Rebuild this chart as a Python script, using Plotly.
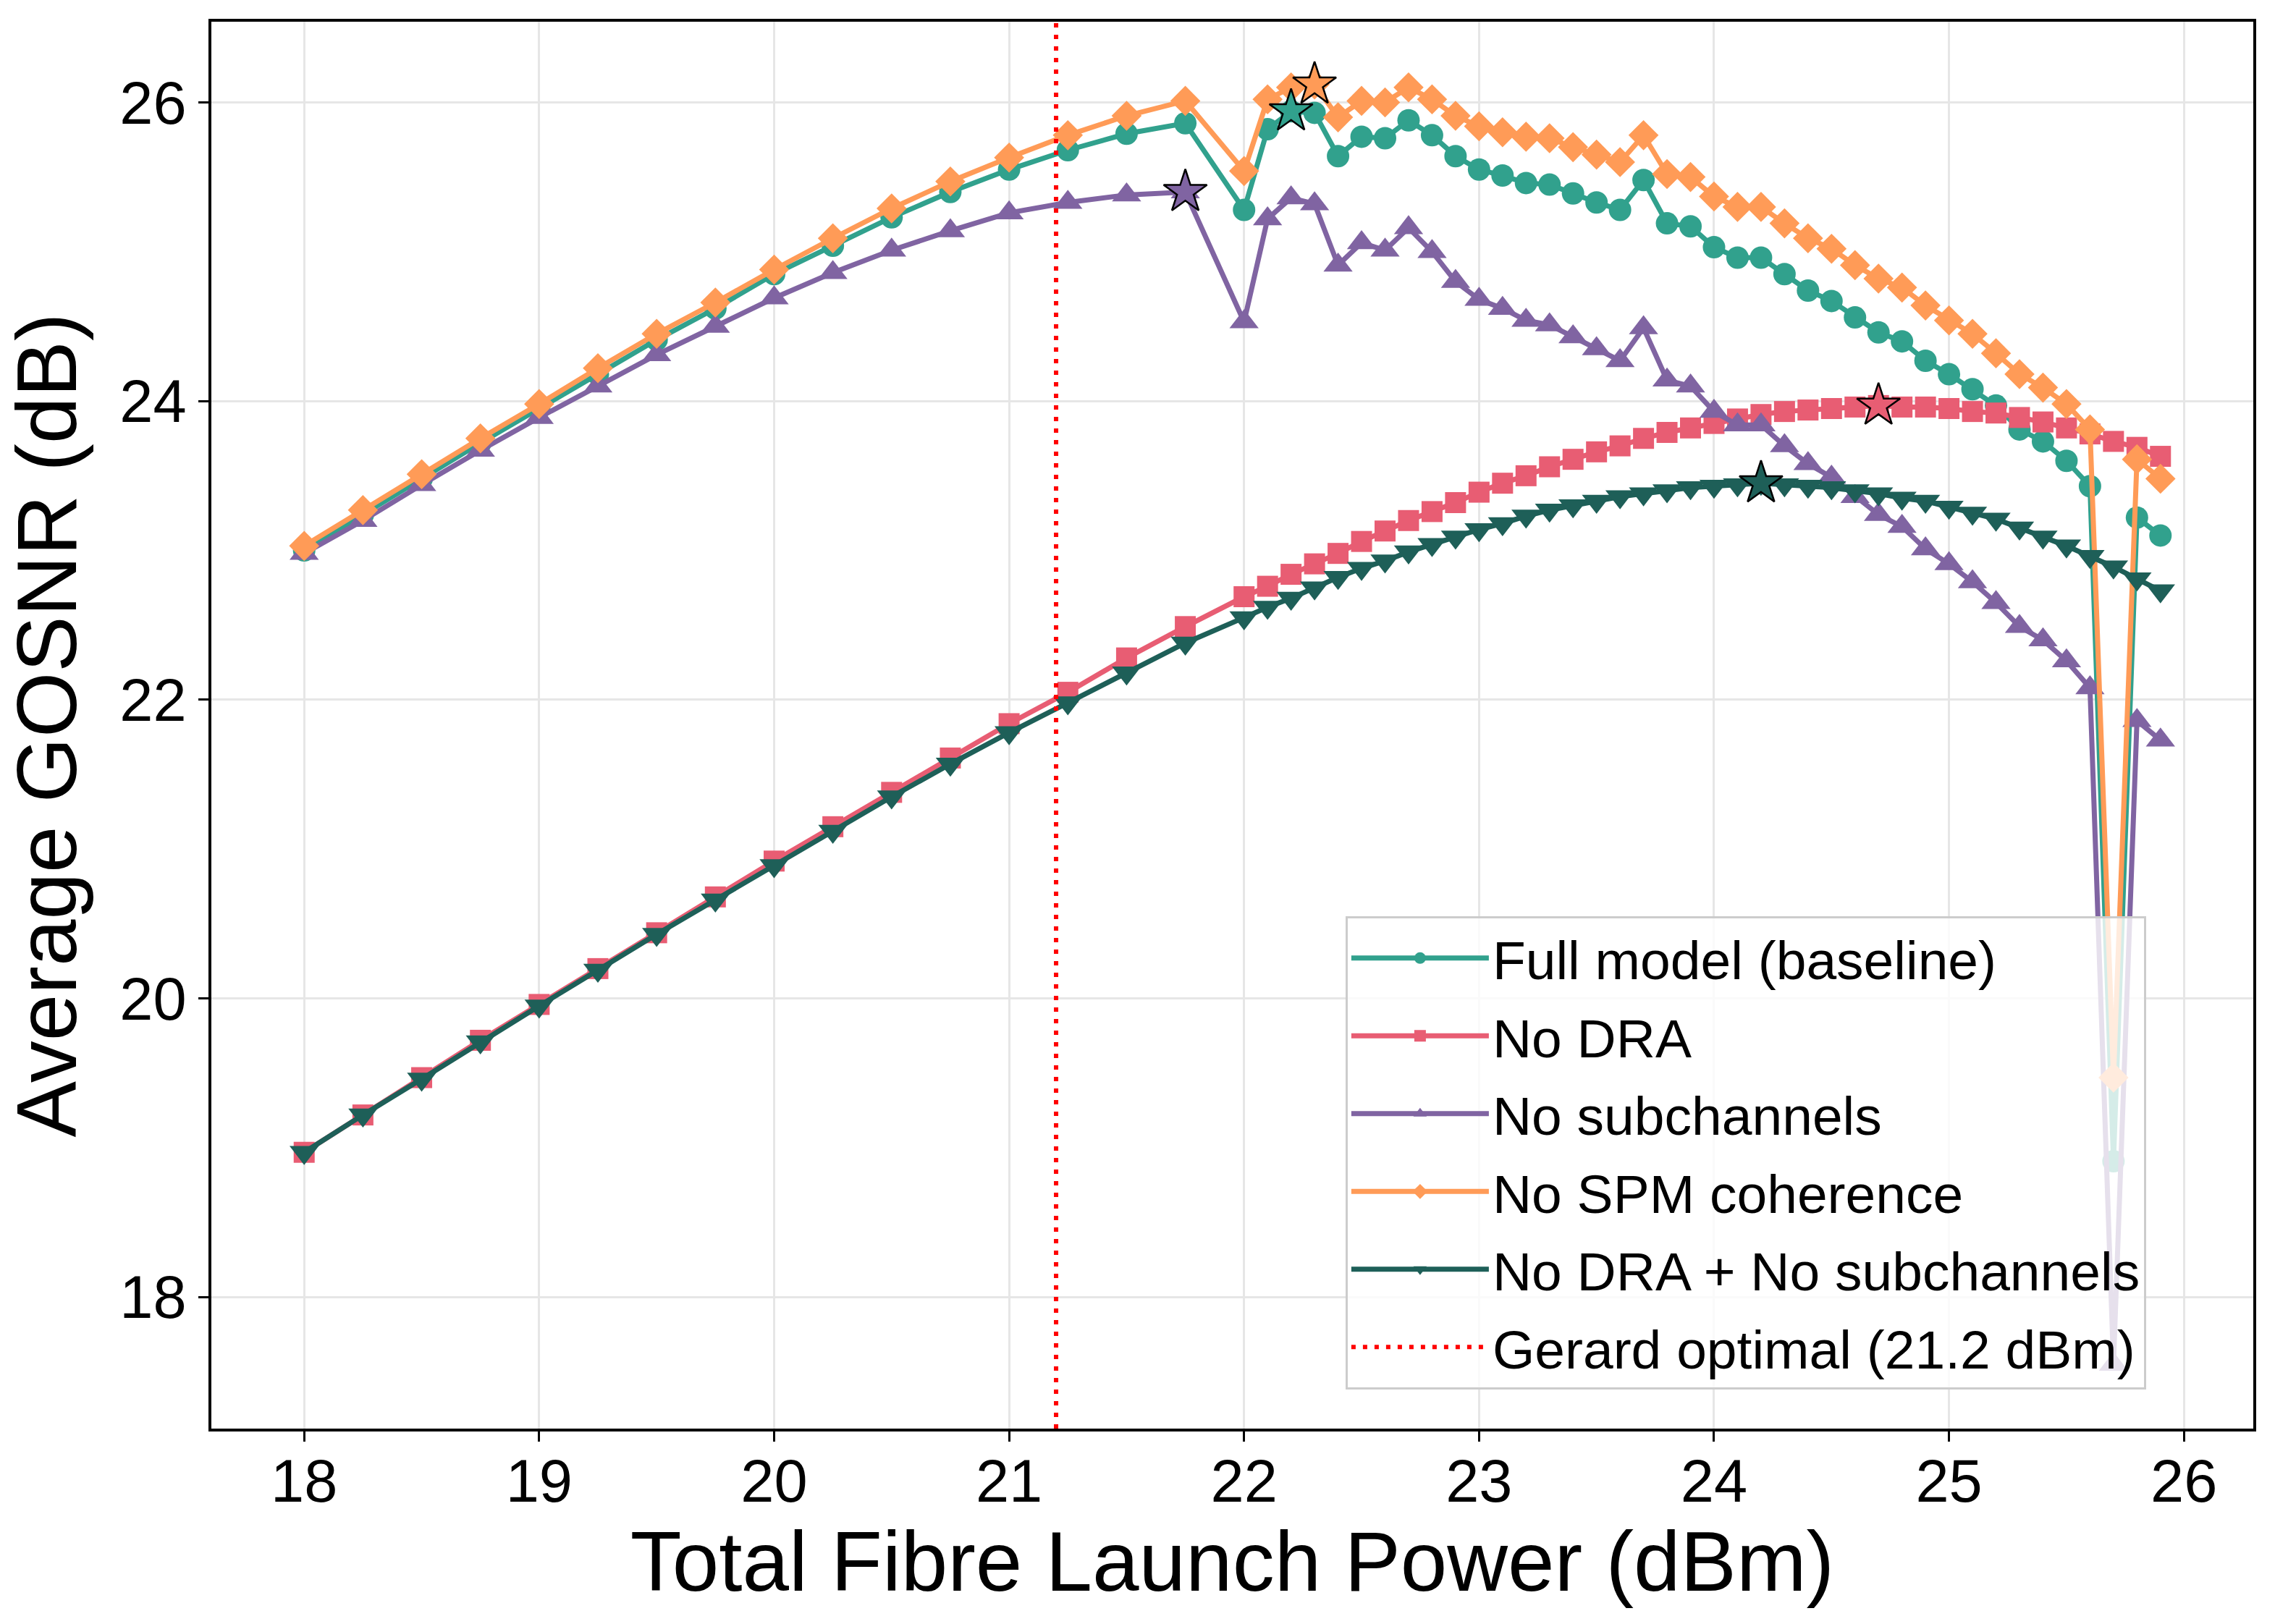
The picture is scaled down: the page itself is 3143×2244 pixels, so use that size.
import plotly.graph_objects as go

# ---------------- data ----------------
power_dbm = [18.0, 18.25, 18.5, 18.75, 19.0, 19.25, 19.5, 19.75, 20.0, 20.25, 20.5, 20.75,
             21.0, 21.25, 21.5, 21.75,
             22.0, 22.1, 22.2, 22.3, 22.4, 22.5, 22.6, 22.7, 22.8, 22.9,
             23.0, 23.1, 23.2, 23.3, 23.4, 23.5, 23.6, 23.7, 23.8, 23.9,
             24.0, 24.1, 24.2, 24.3, 24.4, 24.5, 24.6, 24.7, 24.8, 24.9,
             25.0, 25.1, 25.2, 25.3, 25.4, 25.5, 25.6, 25.7, 25.8, 25.9]

full_model = [23.00, 23.24, 23.48, 23.72, 23.95, 24.18, 24.41, 24.62, 24.85, 25.04, 25.23, 25.40,
              25.55, 25.68, 25.79, 25.86,
              25.28, 25.82, 25.94, 25.93, 25.64, 25.77, 25.76, 25.88, 25.78, 25.64,
              25.55, 25.51, 25.46, 25.45, 25.39, 25.33, 25.28, 25.48, 25.19, 25.17,
              25.03, 24.96, 24.96, 24.85, 24.74, 24.67, 24.56, 24.46, 24.40, 24.27,
              24.18, 24.08, 23.97, 23.81, 23.73, 23.60, 23.43, 18.91, 23.22, 23.10]

no_dra = [18.97, 19.22, 19.47, 19.72, 19.96, 20.20, 20.44, 20.68, 20.92, 21.15, 21.38, 21.61,
          21.84, 22.05, 22.28, 22.49,
          22.69, 22.76, 22.84, 22.91, 22.98, 23.06, 23.13, 23.20, 23.26, 23.32,
          23.39, 23.45, 23.50, 23.56, 23.61, 23.66, 23.70, 23.75, 23.79, 23.82,
          23.85, 23.88, 23.91, 23.93, 23.94, 23.95, 23.96, 23.97, 23.96, 23.96,
          23.95, 23.93, 23.92, 23.89, 23.86, 23.82, 23.78, 23.73, 23.69, 23.63]

no_subchannels = [22.98, 23.20, 23.44, 23.67, 23.89, 24.10, 24.31, 24.50, 24.69, 24.86, 25.01, 25.14,
                  25.26, 25.33, 25.38, 25.40,
                  24.53, 25.22, 25.36, 25.32, 24.91, 25.06, 25.01, 25.16, 25.00, 24.80,
                  24.68, 24.62, 24.54, 24.51, 24.43, 24.35, 24.27, 24.49, 24.14, 24.10,
                  23.93, 23.84, 23.84, 23.70, 23.58, 23.49, 23.36, 23.24, 23.16, 23.01,
                  22.91, 22.79, 22.65, 22.49, 22.40, 22.26, 22.08, 17.55, 21.86, 21.73]

no_spm = [23.03, 23.27, 23.51, 23.75, 23.98, 24.22, 24.45, 24.66, 24.88, 25.09, 25.29, 25.47,
          25.63, 25.78, 25.91, 26.01,
          25.54, 26.02, 26.10, 26.12, 25.90, 26.01, 26.00, 26.10, 26.02, 25.91,
          25.84, 25.80, 25.77, 25.76, 25.70, 25.65, 25.60, 25.78, 25.52, 25.50,
          25.37, 25.30, 25.30, 25.19, 25.09, 25.02, 24.91, 24.82, 24.76, 24.64,
          24.54, 24.45, 24.32, 24.18, 24.09, 23.98, 23.81, 19.47, 23.61, 23.48]

no_dra_no_sub = [18.97, 19.22, 19.46, 19.71, 19.95, 20.19, 20.43, 20.66, 20.89, 21.12, 21.35, 21.57,
                 21.78, 21.98, 22.18, 22.38,
                 22.55, 22.62, 22.68, 22.75, 22.82, 22.88, 22.93, 22.99, 23.04, 23.09,
                 23.14, 23.18, 23.23, 23.27, 23.30, 23.33, 23.36, 23.38, 23.40, 23.42,
                 23.43, 23.44, 23.45, 23.44, 23.43, 23.42, 23.40, 23.38, 23.35, 23.33,
                 23.29, 23.25, 23.21, 23.15, 23.09, 23.03, 22.96, 22.89, 22.81, 22.73]

series_names = ["Full model (baseline)", "No DRA", "No subchannels",
                "No SPM coherence", "No DRA + No subchannels"]
series_values = [full_model, no_dra, no_subchannels, no_spm, no_dra_no_sub]

gerard_optimal = 21.2
gerard_label = "Gerard optimal (21.2 dBm)"

x_ticks = [18, 19, 20, 21, 22, 23, 24, 25, 26]
y_ticks = [18, 20, 22, 24, 26]

# ---------------- style ----------------
colors = ["#31a18d", "#e85d73", "#8064a2", "#ff9b57", "#1e5f58"]
symbols = ["circle", "square", "triangle-up", "diamond", "triangle-down"]
msizes = [31, 29, 35, 32, 35]
LINE_W = 7
FONT = "Liberation Sans, Arial, Helvetica, sans-serif"
X_RANGE = [17.605, 26.295]
Y_RANGE = [17.12, 26.54]

fig = go.Figure()

for i, (name, vals) in enumerate(zip(series_names, series_values)):
    fig.add_trace(go.Scatter(
        x=power_dbm, y=vals, name=name, mode="lines+markers",
        legendgroup=f"g{i}",
        line=dict(color=colors[i], width=LINE_W),
        marker=dict(symbol=symbols[i], size=msizes[i], color=colors[i], line=dict(width=0)),
    ))

fig.add_trace(go.Scatter(
    x=[gerard_optimal, gerard_optimal], y=Y_RANGE, name=gerard_label, mode="lines",
    legendgroup="g5",
    line=dict(color="red", width=6, dash="6px,10px"),
))

# optimum markers (stars)
for i, vals in enumerate(series_values):
    k = max(range(len(vals)), key=lambda j: vals[j])
    fig.add_trace(go.Scatter(
        x=[power_dbm[k]], y=[vals[k]], mode="markers", showlegend=False,
        marker=dict(symbol="star", size=45, color=colors[i], line=dict(color="black", width=2.5)),
    ))

axis_common = dict(
    showline=True, linecolor="black", linewidth=3.5, mirror=True,
    ticks="outside", ticklen=14, tickwidth=3, tickcolor="black",
    showgrid=True, gridcolor="#e6e6e6", gridwidth=3,
    zeroline=False,
    tickfont=dict(family=FONT, size=83, color="black"),
)

fig.update_xaxes(range=X_RANGE, tickvals=x_ticks, ticktext=[str(t) for t in x_ticks],
                 ticklabelstandoff=-16,
                 title=dict(text="Total Fibre Launch Power (dBm)",
                            font=dict(family=FONT, size=116, color="black"), standoff=20),
                 **axis_common)
fig.update_yaxes(range=Y_RANGE, tickvals=y_ticks, ticktext=[str(t) for t in y_ticks],
                 title=dict(text="Average GOSNR (dB)",
                            font=dict(family=FONT, size=116, color="black"), standoff=30),
                 **axis_common)

fig.update_layout(
    width=3143, height=2244,
    margin=dict(l=292, r=30, t=30, b=270, autoexpand=False),
    paper_bgcolor="white", plot_bgcolor="white",
    font=dict(family=FONT, color="black"),
    legend=dict(
        x=0.9475, y=0.028, xanchor="right", yanchor="bottom",
        bgcolor="rgba(255,255,255,0.8)", bordercolor="#cccccc", borderwidth=3,
        font=dict(family=FONT, size=75, color="black"),
        itemwidth=190, tracegroupgap=7,
    ),
)

fig.write_html("out.html")
